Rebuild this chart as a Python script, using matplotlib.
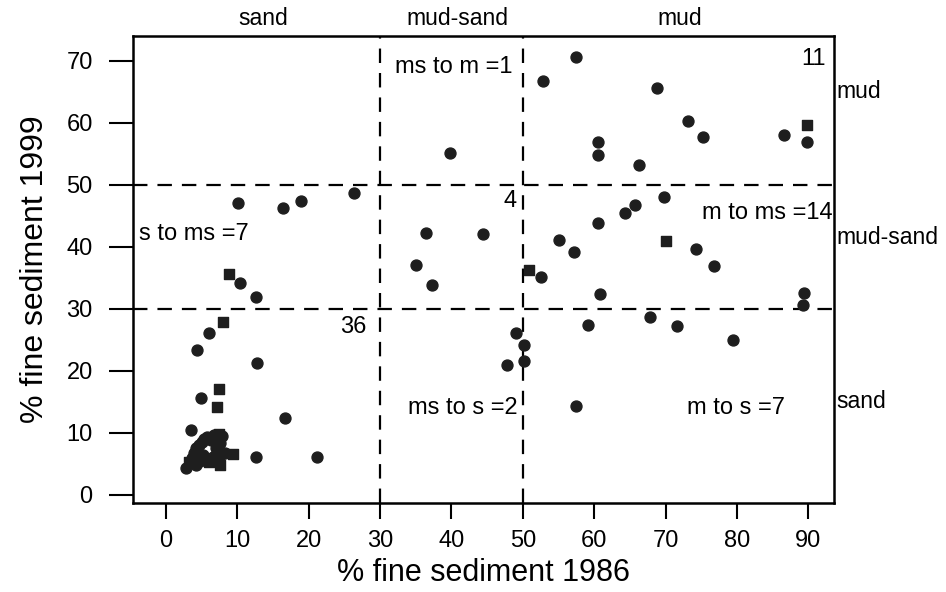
import matplotlib
matplotlib.use("Agg")
import matplotlib.pyplot as plt
import matplotlib.transforms as mtransforms

plt.rcParams['font.family'] = ['Liberation Sans', 'DejaVu Sans']

# % fine sediment, 1986 vs 1999 (circles)
x_circ = [57.5, 52.9, 68.8, 73.2, 75.2, 60.5, 60.5, 66.3, 86.6, 89.8,
          69.8, 65.7, 64.3, 60.6, 55.1, 57.2, 74.2, 76.8, 52.5, 60.8, 89.4, 89.2,
          59.1, 67.8, 71.6, 79.4, 57.4, 50.2, 50.2,
          49.0, 47.8,
          36.5, 44.4, 35.0, 37.3, 39.8,
          10.1, 16.4, 19.0, 26.3, 10.4, 12.6,
          6.0, 4.4, 12.7, 4.9, 16.7, 3.5, 12.6, 21.2,
          2.8, 3.6, 4.0, 4.2, 4.6, 5.0, 5.4, 5.8, 6.3, 6.8, 7.8, 7.6, 7.0,
          5.2, 4.8, 6.6, 7.5, 8.3, 4.2]
y_circ = [70.6, 66.8, 65.6, 60.3, 57.7, 56.9, 54.8, 53.2, 58.1, 56.9,
          48.1, 46.8, 45.5, 43.9, 41.1, 39.2, 39.7, 36.9, 35.2, 32.4, 32.6, 30.6,
          27.4, 28.7, 27.3, 25.0, 14.4, 24.2, 21.6,
          26.1, 21.0,
          42.3, 42.1, 37.1, 33.9, 55.2,
          47.1, 46.3, 47.4, 48.7, 34.2, 31.9,
          26.1, 23.4, 21.3, 15.6, 12.4, 10.5, 6.1, 6.1,
          4.4, 5.9, 6.8, 7.5, 8.1, 8.6, 9.0, 9.4, 8.9, 9.6, 9.5, 8.4, 7.6,
          6.4, 5.5, 6.2, 5.9, 6.7, 4.9]

# squares
x_sq = [89.8, 70.1, 50.9, 8.9, 8.0, 7.4, 7.1, 7.4, 3.2, 9.4, 7.6, 6.0]
y_sq = [59.7, 41.0, 36.3, 35.6, 27.9, 17.1, 14.2, 9.8, 5.3, 6.6, 4.8, 5.3]

class_limits = [30, 50]
top_labels = ['sand', 'mud-sand', 'mud']
top_label_x = [13.6, 40.8, 72.0]
side_labels = ['mud', 'mud-sand', 'sand']
side_label_y = [65.0, 41.5, 15.0]

fig = plt.figure(figsize=(9.46, 5.92), dpi=100)
ax = fig.add_axes([0.1406, 0.1503, 0.7410, 0.7889])

ax.scatter(x_circ, y_circ, s=62, marker='o', color='#1e1e1e', zorder=3)
ax.scatter(x_sq, y_sq, s=52, marker='s', color='#1e1e1e', zorder=3)

for v in class_limits:
    ax.axvline(v, color='black', lw=1.6, ls=(0, (6.5, 4.5)), zorder=2)
    ax.axhline(v, color='black', lw=1.6, ls=(0, (6.5, 4.5)), zorder=2)

ax.set_xlim(-4.6, 93.6)
ax.set_ylim(-1.3, 74.0)
ax.set_xticks(range(0, 91, 10))
ax.set_yticks(range(0, 71, 10))
ax.tick_params(axis='x', length=11.5, width=1.5, labelsize=17, pad=8)
ax.tick_params(axis='y', length=17, width=1.5, labelsize=17, pad=12)
for s in ax.spines.values():
    s.set_linewidth(1.8)

ax.set_xlabel('% fine sediment 1986', fontsize=22, labelpad=4)
ax.set_ylabel('% fine sediment 1999', fontsize=23, labelpad=12)

# class labels
trans_top = mtransforms.blended_transform_factory(ax.transData, ax.transAxes)
for lab, xv in zip(top_labels, top_label_x):
    ax.text(xv, 1.038, lab, transform=trans_top, ha='center', va='center', fontsize=16.5)
trans_side = mtransforms.blended_transform_factory(ax.transAxes, ax.transData)
for lab, yv in zip(side_labels, side_label_y):
    ax.text(1.004, yv, lab, transform=trans_side, ha='left', va='center', fontsize=16.5)

# transition counts
fs = 17
ax.text(40.4, 69.0, 'ms to m =1', ha='center', va='center', fontsize=fs)
ax.text(92.5, 70.3, '11', ha='right', va='center', fontsize=fs)
ax.text(49.2, 47.4, '4', ha='right', va='center', fontsize=fs)
ax.text(-3.7, 42.1, 's to ms =7', ha='left', va='center', fontsize=fs)
ax.text(93.4, 45.5, 'm to ms =14', ha='right', va='center', fontsize=fs)
ax.text(28.1, 27.1, '36', ha='right', va='center', fontsize=fs)
ax.text(41.6, 14.0, 'ms to s =2', ha='center', va='center', fontsize=fs)
ax.text(79.9, 14.0, 'm to s =7', ha='center', va='center', fontsize=fs)

fig.savefig('out.png', dpi=100)
